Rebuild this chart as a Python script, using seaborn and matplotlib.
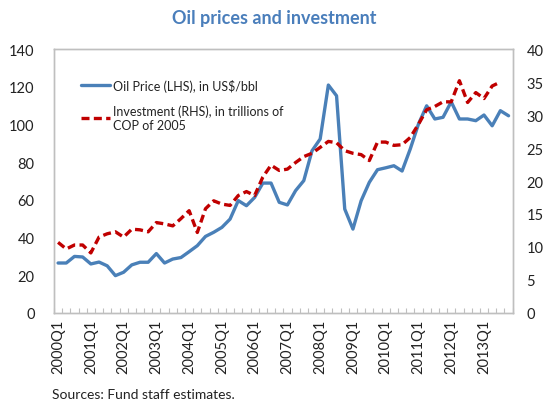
import matplotlib
matplotlib.use("Agg")
import matplotlib.pyplot as plt
import seaborn as sns
import numpy as np
import pandas as pd
from matplotlib.ticker import FixedLocator
from matplotlib.lines import Line2D

sns.set_style("white")
plt.rcParams['font.family'] = ['Lato', 'DejaVu Sans']

years = list(range(2000, 2014))
quarters = [f"{y}Q{q}" for y in years for q in range(1, 5)]

oil_price = [26.5, 26.5, 30.0, 29.7, 26.0, 27.0, 25.0, 19.8, 21.6, 25.5,
             26.9, 26.9, 31.5, 26.5, 28.6, 29.4, 32.5, 35.7, 40.6, 42.8,
             45.4, 49.8, 59.6, 56.9, 61.3, 68.9, 68.9, 58.7, 57.3, 64.9,
             70.2, 86.0, 92.3, 120.9, 115.2, 55.1, 44.5, 59.5, 69.3, 76.0,
             77.0, 78.1, 75.3, 87.0, 100.2, 109.9, 102.9, 103.8, 112.0, 102.9,
             102.9, 102.0, 105.0, 99.3, 107.3, 104.6]

investment = [10.7, 9.7, 10.3, 10.3, 9.1, 11.5, 12.0, 12.3, 11.5, 12.7,
              12.6, 12.3, 13.7, 13.5, 13.2, 14.3, 15.5, 12.2, 15.8, 17.0,
              16.5, 16.3, 17.8, 18.4, 17.8, 20.6, 22.4, 21.6, 21.8, 22.8,
              23.7, 24.2, 25.1, 26.0, 25.8, 24.6, 24.2, 24.0, 23.1, 25.9,
              25.9, 25.4, 25.5, 26.6, 28.6, 30.8, 31.3, 32.0, 32.0, 35.2,
              31.9, 33.4, 32.5, 34.4, 35.0]

left_ticks = [0, 20, 40, 60, 80, 100, 120, 140]
right_ticks = [0, 5, 10, 15, 20, 25, 30, 35, 40]

df_oil = pd.DataFrame({"x": np.arange(len(oil_price)), "v": oil_price})
df_inv = pd.DataFrame({"x": np.arange(len(investment)), "v": investment})

blue = "#4A80B8"
red = "#C00000"
grey = "#BFBFBF"

fig = plt.figure(figsize=(5.48, 4.02), dpi=100)
ax = fig.add_axes([0.0985, 0.219, 0.837, 0.6565])
ax2 = ax.twinx()

sns.lineplot(data=df_oil, x="x", y="v", ax=ax, color=blue, linewidth=2.4,
             legend=False)
sns.lineplot(data=df_inv, x="x", y="v", ax=ax2, color=red, linewidth=2.4,
             legend=False)
ax2.lines[0].set_dashes((2.4, 1.3))

n = len(quarters)
ax.set_xlim(-0.5, n - 0.5)
ax.set_ylim(0, 140)
ax2.set_ylim(0, 40)
ax.set_yticks(left_ticks)
ax2.set_yticks(right_ticks)
ax.set_xticks(np.arange(0, n, 4))
ax.set_xticklabels([quarters[i] for i in range(0, n, 4)], rotation=90)
ax.xaxis.set_minor_locator(FixedLocator(np.arange(-0.5, n, 1)))
ax.tick_params(axis='x', which='major', length=0, pad=4, labelsize=10.5, colors='#222222')
ax.tick_params(axis='x', which='minor', length=3.5, direction='in', color=grey, bottom=True, width=0.8)
ax.tick_params(axis='y', length=0, pad=14, labelsize=10.5, colors='#222222')
ax2.tick_params(axis='y', length=0, pad=10, labelsize=10.5, colors='#222222')
ax.set_xlabel("")
ax.set_ylabel("")
ax2.set_ylabel("")
for a in (ax, ax2):
    for s in a.spines.values():
        s.set_color(grey)
        s.set_linewidth(1.0)
    a.grid(False)

handles = [Line2D([], [], color=blue, linewidth=2.4),
           Line2D([], [], color=red, linewidth=2.4, dashes=(2.4, 1.3))]
labels = ["Oil Price (LHS), in US$/bbl", "Investment (RHS), in trillions of\nCOP of 2005"]
leg = ax.legend(handles, labels, loc='upper left', bbox_to_anchor=(0.035, 0.93),
                frameon=False, fontsize=9, handlelength=2.3, handletextpad=0.2,
                labelspacing=1.0)
for t in leg.get_texts():
    t.set_color('#222222')

fig.text(0.5, 0.955, "Oil prices and investment", ha='center', va='center',
         fontsize=13, fontweight='bold', color='#4A7EBB')
fig.text(0.095, 0.003, "Sources: Fund staff estimates.", ha='left', va='bottom',
         fontsize=10, color='#222222')

fig.savefig("out.png", dpi=100)
